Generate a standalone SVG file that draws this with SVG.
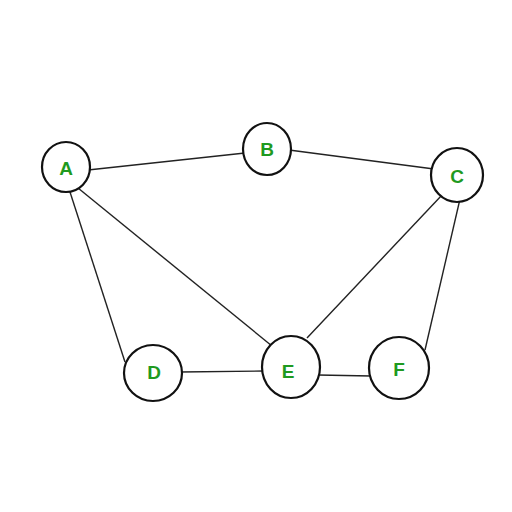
<svg xmlns="http://www.w3.org/2000/svg" width="512" height="512" viewBox="0 0 512 512">
<style>
.n ellipse{fill:#fff;stroke:#111;stroke-width:2.2}
.n text{fill:#1f9a1f;font-family:"Liberation Sans",Arial,sans-serif;font-size:19px;font-weight:bold;text-anchor:middle;dominant-baseline:central}
#edges line{stroke:#222;stroke-width:1.4}
</style>
<rect width="512" height="512" fill="#fff"/>
<g id="edges">
<line x1="88" y1="170" x2="245" y2="153"/>
<line x1="289" y1="150" x2="434" y2="169"/>
<line x1="70" y1="192" x2="125" y2="362"/>
<line x1="78" y1="188" x2="272" y2="346"/>
<line x1="442" y1="195" x2="307" y2="338"/>
<line x1="460" y1="199" x2="425" y2="350"/>
<line x1="180" y1="372" x2="264" y2="371"/>
<line x1="318" y1="375" x2="371" y2="376"/>
</g>
<g id="A" class="n"><ellipse cx="66" cy="167" rx="24" ry="25"/><text x="66" y="168">A</text></g>
<g id="B" class="n"><ellipse cx="267" cy="149" rx="24" ry="26"/><text x="267" y="149">B</text></g>
<g id="C" class="n"><ellipse cx="457" cy="175" rx="26" ry="27"/><text x="457" y="176">C</text></g>
<g id="D" class="n"><ellipse cx="153" cy="373" rx="29" ry="28"/><text x="154" y="372">D</text></g>
<g id="E" class="n"><ellipse cx="291" cy="367" rx="29" ry="31"/><text x="288" y="371">E</text></g>
<g id="F" class="n"><ellipse cx="399" cy="368" rx="30" ry="31"/><text x="399" y="369">F</text></g>
</svg>
